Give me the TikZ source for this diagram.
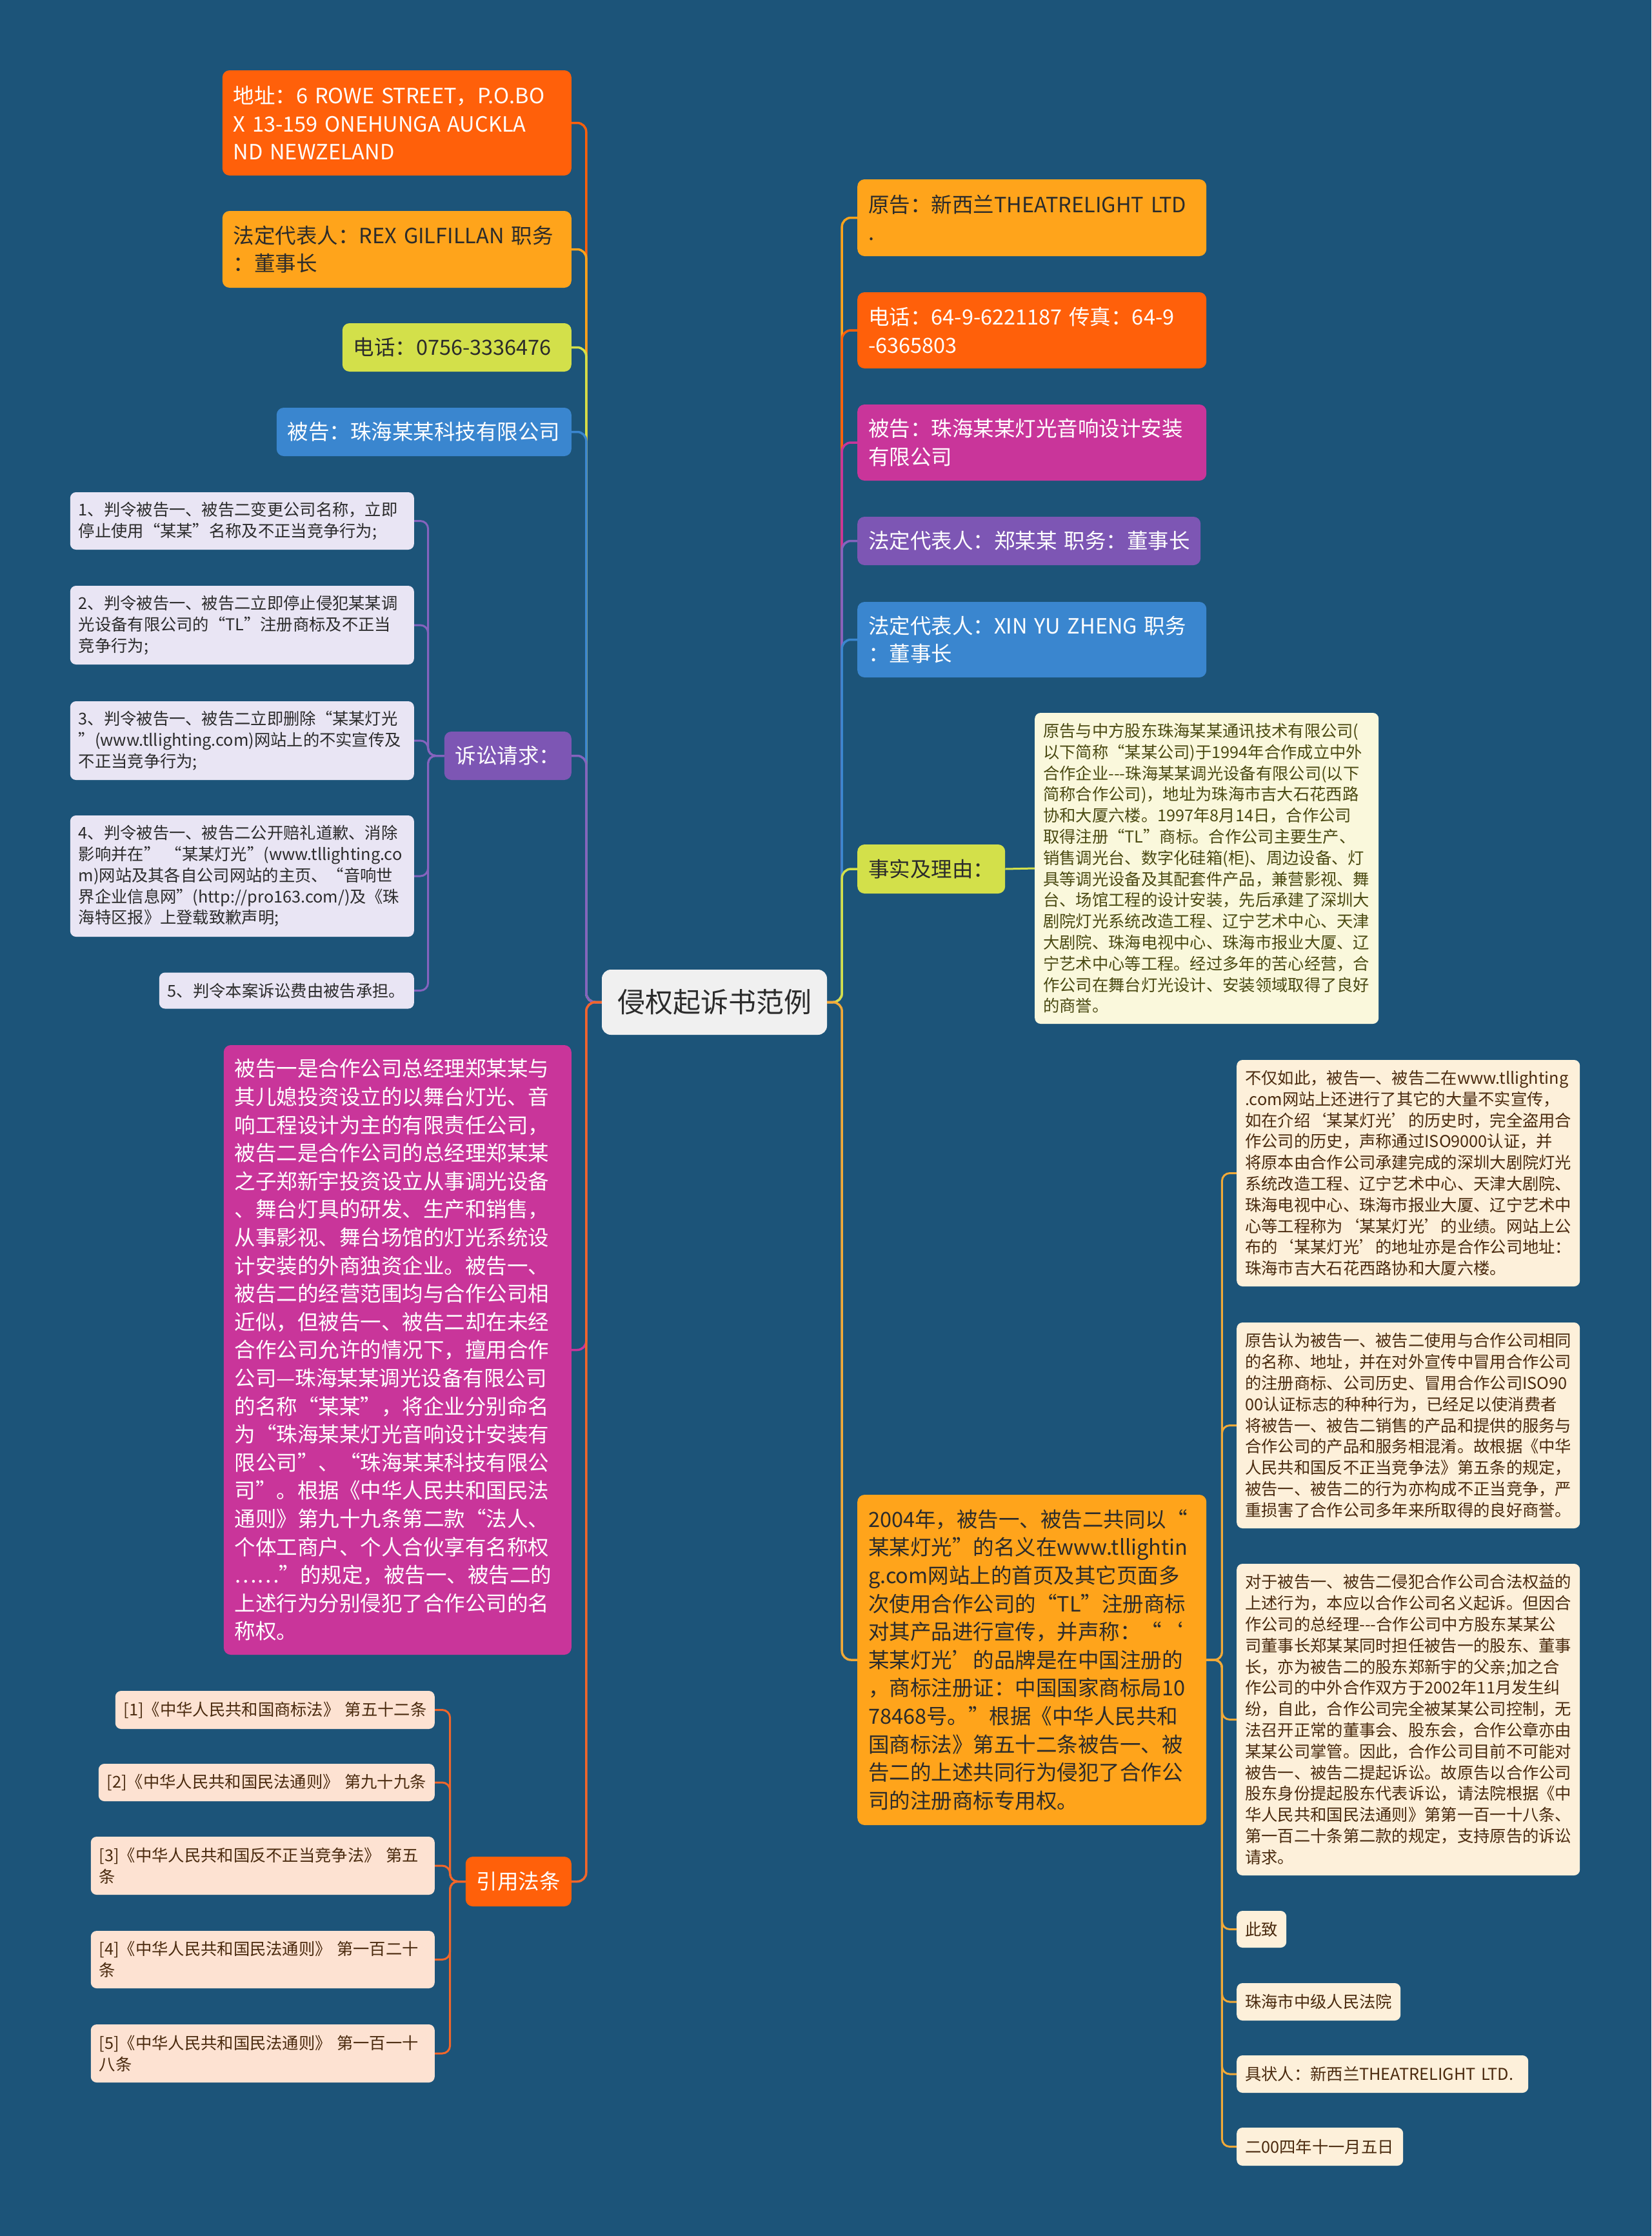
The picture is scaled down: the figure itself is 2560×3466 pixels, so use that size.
\documentclass[tikz,border=0pt]{standalone}
\usepackage{fontspec}
\setmainfont{Noto Sans CJK SC}
\usepackage{tikz}

\definecolor{bgBlue}{HTML}{1C5479}
\definecolor{cRed}{HTML}{FF600A}
\definecolor{cGold}{HTML}{FFA41B}
\definecolor{cLime}{HTML}{D3E04A}
\definecolor{cBlue}{HTML}{3A86CF}
\definecolor{cPurple}{HTML}{7D56B4}
\definecolor{cMagenta}{HTML}{C9359A}
\definecolor{cLavender}{HTML}{E9E5F4}
\definecolor{cPeach}{HTML}{FDE2D2}
\definecolor{cCream}{HTML}{FAF8DC}
\definecolor{cSand}{HTML}{FDF0DA}
\definecolor{cRoot}{HTML}{F0F0F0}
\definecolor{lnRed}{HTML}{F2662A}
\definecolor{lnGold}{HTML}{F2AA38}
\definecolor{lnPurple}{HTML}{8563BE}
\definecolor{tDark}{HTML}{2B2B2B}
\definecolor{tBrown}{HTML}{4A2A0E}
\definecolor{tOlive}{HTML}{4B4A12}

\newcommand{\bigtxt}{\fontsize{32.5}{43.6}\selectfont\hyphenpenalty=10000\exhyphenpenalty=10000}
\newcommand{\smalltxt}{\fontsize{25.3}{32.8}\selectfont\hyphenpenalty=10000\exhyphenpenalty=10000}

\begin{document}
\begin{tikzpicture}[x=1pt, y=-1pt,
	bigbox/.style 2 args={rounded corners=11pt, fill=#1, text=#2, font=\bigtxt, inner xsep=17pt, inner ysep=0pt, align=left},
	smallbox/.style 2 args={rounded corners=9pt, fill=#1, text=#2, font=\smalltxt, inner xsep=13pt, inner ysep=0pt, align=left},
	link/.style={draw=#1, line width=3.5pt, rounded corners=14pt},
	twig/.style={draw=#1, line width=3pt, rounded corners=12pt}]
	\useasboundingbox (0,0) rectangle (2560,3466);
	\fill[bgBlue] (0,0) rectangle (2560,3466);

	\node[rounded corners=14pt, fill=cRoot, text=tDark, font=\fontsize{43}{50}\selectfont, minimum width=349pt, minimum height=101pt, inner sep=0pt] (root) at (1107.5,1553.5) {侵权起诉书范例};

	\node[bigbox={cRed}{white}, anchor=east, text width=507pt, minimum height=163pt] (addr) at (886,190.5) {地址：6~ROWE~STREET，P.O.BO\\X~13-159~ONEHUNGA~AUCKLA\\ND~NEWZELAND};
	\node[bigbox={cGold}{tDark}, anchor=east, text width=507pt, minimum height=119pt] (rex) at (886,386.5) {法定代表人：REX~GILFILLAN~职务\\：董事长};
	\node[bigbox={cLime}{tDark}, anchor=east, text width=321pt, minimum height=75pt] (tel1) at (886,538.5) {电话：0756-3336476};
	\node[bigbox={cBlue}{white}, anchor=east, text width=423pt, minimum height=75pt] (def1) at (886,669.5) {被告：珠海某某科技有限公司};
	\node[bigbox={cPurple}{white}, anchor=east, text width=163pt, minimum height=75pt] (suq) at (886,1171.5) {诉讼请求：};
	\node[bigbox={cMagenta}{white}, anchor=east, text width=505pt, minimum height=945pt] (mag) at (886,2092.5) {被告一是合作公司总经理郑某某与\\其儿媳投资设立的以舞台灯光、音\\响工程设计为主的有限责任公司，\\被告二是合作公司的总经理郑某某\\之子郑新宇投资设立从事调光设备\\、舞台灯具的研发、生产和销售，\\从事影视、舞台场馆的灯光系统设\\计安装的外商独资企业。被告一、\\被告二的经营范围均与合作公司相\\近似，但被告一、被告二却在未经\\合作公司允许的情况下，擅用合作\\公司—珠海某某调光设备有限公司\\的名称“某某”，将企业分别命名\\为“珠海某某灯光音响设计安装有\\限公司”、“珠海某某科技有限公\\司”。根据《中华人民共和国民法\\通则》第九十九条第二款“法人、\\个体工商户、个人合伙享有名称权\\……”的规定，被告一、被告二的\\上述行为分别侵犯了合作公司的名\\称权。};
	\node[bigbox={cRed}{white}, anchor=east, text width=130pt, minimum height=77pt] (yin) at (886,2916.5) {引用法条};

	\node[smallbox={cLavender}{tDark}, anchor=east, text width=507pt, minimum height=89pt] (r1) at (642,807.5) {1、判令被告一、被告二变更公司名称，立即\\停止使用“某某”名称及不正当竞争行为;};
	\node[smallbox={cLavender}{tDark}, anchor=east, text width=507pt, minimum height=122pt] (r2) at (642,969) {2、判令被告一、被告二立即停止侵犯某某调\\光设备有限公司的“TL”注册商标及不正当\\竞争行为;};
	\node[smallbox={cLavender}{tDark}, anchor=east, text width=507pt, minimum height=122pt] (r3) at (642,1148) {3、判令被告一、被告二立即删除“某某灯光\\”(www.tllighting.com)网站上的不实宣传及\\不正当竞争行为;};
	\node[smallbox={cLavender}{tDark}, anchor=east, text width=507pt, minimum height=188pt] (r4) at (642,1358) {4、判令被告一、被告二公开赔礼道歉、消除\\影响并在”~“某某灯光”(www.tllighting.co\\m)网站及其各自公司网站的主页、“音响世\\界企业信息网”(http://pro163.com/)及《珠\\海特区报》上登载致歉声明;};
	\node[smallbox={cLavender}{tDark}, anchor=east, text width=369pt, minimum height=56pt] (r5) at (642,1535.5) {5、判令本案诉讼费由被告承担。};

	\node[smallbox={cPeach}{tBrown}, anchor=east, text width=469pt, minimum height=59pt] (l1) at (674,2650.5) {[1]《中华人民共和国商标法》~第五十二条};
	\node[smallbox={cPeach}{tBrown}, anchor=east, text width=495pt, minimum height=58pt] (l2) at (674,2763) {[2]《中华人民共和国民法通则》~第九十九条};
	\node[smallbox={cPeach}{tBrown}, anchor=east, text width=507pt, minimum height=90pt] (l3) at (674,2892) {[3]《中华人民共和国反不正当竞争法》~第五\\条};
	\node[smallbox={cPeach}{tBrown}, anchor=east, text width=507pt, minimum height=89pt] (l4) at (674,3037.5) {[4]《中华人民共和国民法通则》~第一百二十\\条};
	\node[smallbox={cPeach}{tBrown}, anchor=east, text width=507pt, minimum height=90pt] (l5) at (674,3183) {[5]《中华人民共和国民法通则》~第一百一十\\八条};

	\node[bigbox={cGold}{tDark}, anchor=west, text width=507pt, minimum height=119pt] (pl) at (1329,337.5) {原告：新西兰THEATRELIGHT~LTD\\.};
	\node[bigbox={cRed}{white}, anchor=west, text width=507pt, minimum height=118pt] (tel2) at (1329,512) {电话：64-9-6221187~传真：64-9\\-6365803};
	\node[bigbox={cMagenta}{white}, anchor=west, text width=507pt, minimum height=118pt] (def2) at (1329,686) {被告：珠海某某灯光音响设计安装\\有限公司};
	\node[bigbox={cPurple}{white}, anchor=west, text width=498pt, minimum height=75pt] (rep2) at (1329,838.5) {法定代表人：郑某某~职务：董事长};
	\node[bigbox={cBlue}{white}, anchor=west, text width=507pt, minimum height=117pt] (rep3) at (1329,991.5) {法定代表人：XIN~YU~ZHENG~职务\\：董事长};
	\node[bigbox={cLime}{tDark}, anchor=west, text width=195pt, minimum height=76pt] (fact) at (1329,1347) {事实及理由：};
	\node[smallbox={cCream}{tOlive}, anchor=west, text width=507pt, minimum height=482pt] (facttext) at (1604,1346) {原告与中方股东珠海某某通讯技术有限公司(\\以下简称“某某公司)于1994年合作成立中外\\合作企业-{}-{}-珠海某某调光设备有限公司(以下\\简称合作公司)，地址为珠海市吉大石花西路\\协和大厦六楼。1997年8月14日，合作公司\\取得注册“TL”商标。合作公司主要生产、\\销售调光台、数字化硅箱(柜)、周边设备、灯\\具等调光设备及其配套件产品，兼营影视、舞\\台、场馆工程的设计安装，先后承建了深圳大\\剧院灯光系统改造工程、辽宁艺术中心、天津\\大剧院、珠海电视中心、珠海市报业大厦、辽\\宁艺术中心等工程。经过多年的苦心经营，合\\作公司在舞台灯光设计、安装领域取得了良好\\的商誉。};
	\node[bigbox={cGold}{tDark}, anchor=west, text width=507pt, minimum height=512pt] (suit) at (1329,2573) {2004年，被告一、被告二共同以“\\某某灯光”的名义在www.tllightin\\g.com网站上的首页及其它页面多\\次使用合作公司的“TL”注册商标\\对其产品进行宣传，并声称：“‘\\某某灯光’的品牌是在中国注册的\\，商标注册证：中国国家商标局10\\78468号。”根据《中华人民共和\\国商标法》第五十二条被告一、被\\告二的上述共同行为侵犯了合作公\\司的注册商标专用权。};

	\node[smallbox={cSand}{tBrown}, anchor=west, text width=506pt, minimum height=351pt] (cA) at (1917,1818.5) {不仅如此，被告一、被告二在www.tllighting\\.com网站上还进行了其它的大量不实宣传，\\如在介绍‘某某灯光’的历史时，完全盗用合\\作公司的历史，声称通过ISO9000认证，并\\将原本由合作公司承建完成的深圳大剧院灯光\\系统改造工程、辽宁艺术中心、天津大剧院、\\珠海电视中心、珠海市报业大厦、辽宁艺术中\\心等工程称为‘某某灯光’的业绩。网站上公\\布的‘某某灯光’的地址亦是合作公司地址：\\珠海市吉大石花西路协和大厦六楼。};
	\node[smallbox={cSand}{tBrown}, anchor=west, text width=506pt, minimum height=319pt] (cB) at (1917,2209.5) {原告认为被告一、被告二使用与合作公司相同\\的名称、地址，并在对外宣传中冒用合作公司\\的注册商标、公司历史、冒用合作公司ISO90\\00认证标志的种种行为，已经足以使消费者\\将被告一、被告二销售的产品和提供的服务与\\合作公司的产品和服务相混淆。故根据《中华\\人民共和国反不正当竞争法》第五条的规定，\\被告一、被告二的行为亦构成不正当竞争，严\\重损害了合作公司多年来所取得的良好商誉。};
	\node[smallbox={cSand}{tBrown}, anchor=west, text width=506pt, minimum height=483pt] (cC) at (1917,2665.5) {对于被告一、被告二侵犯合作公司合法权益的\\上述行为，本应以合作公司名义起诉。但因合\\作公司的总经理-{}-{}-合作公司中方股东某某公\\司董事长郑某某同时担任被告一的股东、董事\\长，亦为被告二的股东郑新宇的父亲;加之合\\作公司的中外合作双方于2002年11月发生纠\\纷，自此，合作公司完全被某某公司控制，无\\法召开正常的董事会、股东会，合作公章亦由\\某某公司掌管。因此，合作公司目前不可能对\\被告一、被告二提起诉讼。故原告以合作公司\\股东身份提起股东代表诉讼，请法院根据《中\\华人民共和国民法通则》第第一百一十八条、\\第一百二十条第二款的规定，支持原告的诉讼\\请求。};
	\node[smallbox={cSand}{tBrown}, anchor=west, text width=51pt, minimum height=57pt] (cD) at (1917,2990.5) {此致};
	\node[smallbox={cSand}{tBrown}, anchor=west, text width=228pt, minimum height=58pt] (cE) at (1917,3103) {珠海市中级人民法院};
	\node[smallbox={cSand}{tBrown}, anchor=west, text width=426pt, minimum height=58pt] (cF) at (1917,3215) {具状人：新西兰THEATRELIGHT~LTD.};
	\node[smallbox={cSand}{tBrown}, anchor=west, text width=232pt, minimum height=59pt] (cG) at (1917,3327.5) {二00四年十一月五日};

	\draw[link=cRed] (root.west) -- ++(-24,0) |- (addr.east);
	\draw[link=cGold] (root.west) -- ++(-24,0) |- (rex.east);
	\draw[link=cLime] (root.west) -- ++(-24,0) |- (tel1.east);
	\draw[link=cBlue] (root.west) -- ++(-24,0) |- (def1.east);
	\draw[link=lnPurple] (root.west) -- ++(-24,0) |- (suq.east);
	\draw[link=cMagenta] (root.west) -- ++(-24,0) |- (mag.east);
	\draw[link=lnRed] (root.west) -- ++(-24,0) |- (yin.east);

	\draw[twig=lnPurple] (suq.west) -- ++(-25,0) |- (r1.east);
	\draw[twig=lnPurple] (suq.west) -- ++(-25,0) |- (r2.east);
	\draw[twig=lnPurple] (suq.west) -- ++(-25,0) |- (r3.east);
	\draw[twig=lnPurple] (suq.west) -- ++(-25,0) |- (r4.east);
	\draw[twig=lnPurple] (suq.west) -- ++(-25,0) |- (r5.east);

	\draw[twig=lnRed] (yin.west) -- ++(-24,0) |- (l1.east);
	\draw[twig=lnRed] (yin.west) -- ++(-24,0) |- (l2.east);
	\draw[twig=lnRed] (yin.west) -- ++(-24,0) |- (l3.east);
	\draw[twig=lnRed] (yin.west) -- ++(-24,0) |- (l4.east);
	\draw[twig=lnRed] (yin.west) -- ++(-24,0) |- (l5.east);

	\draw[link=cGold] (root.east) -- ++(23,0) |- (pl.west);
	\draw[link=cRed] (root.east) -- ++(23,0) |- (tel2.west);
	\draw[link=cMagenta] (root.east) -- ++(23,0) |- (def2.west);
	\draw[link=lnPurple] (root.east) -- ++(23,0) |- (rep2.west);
	\draw[link=cBlue] (root.east) -- ++(23,0) |- (rep3.west);
	\draw[link=cLime] (root.east) -- ++(23,0) |- (fact.west);
	\draw[link=lnGold] (root.east) -- ++(23,0) |- (suit.west);

	\draw[twig=cLime] (fact.east) -- (facttext.west);

	\draw[twig=lnGold] (suit.east) -- ++(24,0) |- (cA.west);
	\draw[twig=lnGold] (suit.east) -- ++(24,0) |- (cB.west);
	\draw[twig=lnGold] (suit.east) -- ++(24,0) |- (cC.west);
	\draw[twig=lnGold] (suit.east) -- ++(24,0) |- (cD.west);
	\draw[twig=lnGold] (suit.east) -- ++(24,0) |- (cE.west);
	\draw[twig=lnGold] (suit.east) -- ++(24,0) |- (cF.west);
	\draw[twig=lnGold] (suit.east) -- ++(24,0) |- (cG.west);
\end{tikzpicture}
\end{document}
